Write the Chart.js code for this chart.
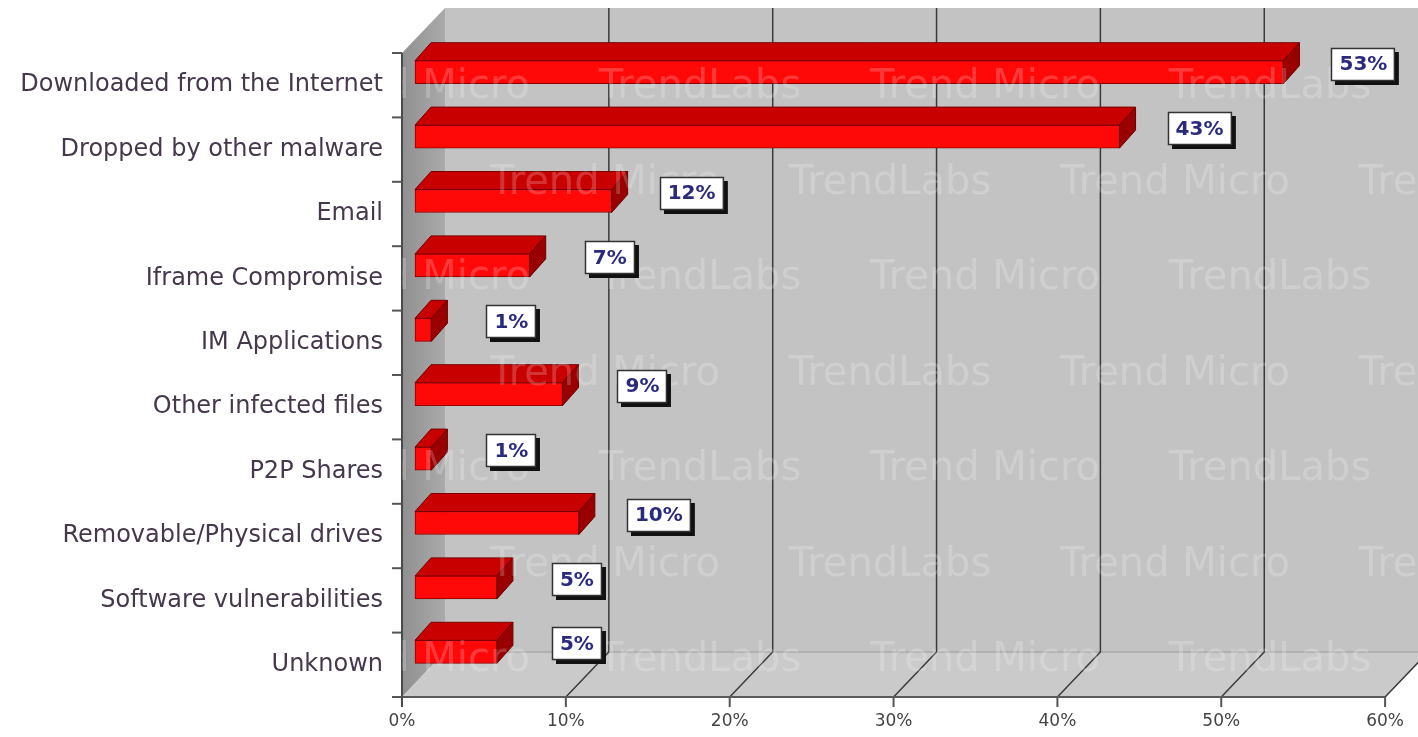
<!DOCTYPE html>
<html>
<head>
<meta charset="utf-8">
<script src="https://cdn.jsdelivr.net/npm/chart.js@4.4.1/dist/chart.umd.min.js"></script>
<style>
  html, body { margin: 0; padding: 0; background: #fff; }
  #wrap { width: 1418px; height: 737px; }
</style>
</head>
<body>
<div id="wrap"><canvas id="sourcesChart"></canvas></div>
<script>
// data
const categories = [
  "Downloaded from the Internet",
  "Dropped by other malware",
  "Email",
  "Iframe Compromise",
  "IM Applications",
  "Other infected files",
  "P2P Shares",
  "Removable/Physical drives",
  "Software vulnerabilities",
  "Unknown"
];
const percentages = [53, 43, 12, 7, 1, 9, 1, 10, 5, 5];
const axisMin = 0;
const axisMax = 60;
const axisStep = 10;
const watermarkWords = ["Trend Micro", "TrendLabs"];

// 3d look
const WALL = { dx: 43, dy: 45 };      // front plane -> back wall
const SHIFT = { dx: 13, dy: 13 };     // front plane -> bar front face
const DEPTH = { dx: 16, dy: 18 };     // bar thickness in depth

function poly(ctx, pts, fill, stroke) {
  ctx.beginPath();
  ctx.moveTo(pts[0][0], pts[0][1]);
  for (let i = 1; i < pts.length; i++) ctx.lineTo(pts[i][0], pts[i][1]);
  ctx.closePath();
  if (fill) { ctx.fillStyle = fill; ctx.fill(); }
  if (stroke) { ctx.strokeStyle = stroke; ctx.lineWidth = 1; ctx.stroke(); }
}

function line(ctx, x1, y1, x2, y2, color, w) {
  ctx.beginPath();
  ctx.moveTo(x1, y1);
  ctx.lineTo(x2, y2);
  ctx.strokeStyle = color;
  ctx.lineWidth = w;
  ctx.stroke();
}

const box3d = {
  id: "box3d",
  beforeDatasetsDraw(chart) {
    const ctx = chart.ctx;
    const a = chart.chartArea;
    const xs = chart.scales.x;
    const ys = chart.scales.y;
    ctx.save();

    // back wall
    ctx.fillStyle = "#c3c3c3";
    ctx.fillRect(a.left + WALL.dx, a.top - WALL.dy, a.width, a.height);

    // left wall
    const g = ctx.createLinearGradient(a.left, 0, a.left + WALL.dx, 0);
    g.addColorStop(0, "#909090");
    g.addColorStop(1, "#aaaaaa");
    poly(ctx, [[a.left, a.top], [a.left + WALL.dx, a.top - WALL.dy],
               [a.left + WALL.dx, a.bottom - WALL.dy], [a.left, a.bottom]], g);

    // floor
    poly(ctx, [[a.left, a.bottom], [a.left + WALL.dx, a.bottom - WALL.dy],
               [a.right + WALL.dx, a.bottom - WALL.dy], [a.right, a.bottom]], "#cacaca");
    line(ctx, a.left + WALL.dx, a.bottom - WALL.dy, a.right + WALL.dx, a.bottom - WALL.dy, "#a9a9a9", 1.5);

    // grid lines on back wall and floor
    for (let v = axisMin; v <= axisMax; v += axisStep) {
      const x = xs.getPixelForValue(v);
      if (v > axisMin) {
        ctx.beginPath();
        ctx.moveTo(x + WALL.dx, a.top - WALL.dy);
        ctx.lineTo(x + WALL.dx, a.bottom - WALL.dy);
        ctx.lineTo(x, a.bottom);
        ctx.strokeStyle = "#3a3a3a";
        ctx.lineWidth = 1.5;
        ctx.stroke();
      }
      line(ctx, x, a.bottom, x, a.bottom + 10, "#555", 2);
    }

    // front axis lines
    line(ctx, a.left, a.bottom, a.right, a.bottom, "#5a5a5a", 2);
    line(ctx, a.left, a.top, a.left, a.bottom + 10, "#4a4a4a", 2);

    // category separators on the y axis
    for (let i = 0; i <= categories.length; i++) {
      const y = ys.getPixelForValue(i - 0.5);
      line(ctx, a.left - 10, y, a.left, y, "#555", 2);
    }
    ctx.restore();

    // push the bars into the box
    ctx.save();
    ctx.translate(SHIFT.dx, -SHIFT.dy);
  },
  afterDatasetsDraw(chart) {
    const ctx = chart.ctx;
    const meta = chart.getDatasetMeta(0);
    meta.data.forEach((bar) => {
      const p = bar.getProps(["x", "y", "base", "height"], true);
      const top = p.y - p.height / 2;
      const bottom = p.y + p.height / 2;
      poly(ctx, [[p.base, top], [p.base + DEPTH.dx, top - DEPTH.dy],
                 [p.x + DEPTH.dx, top - DEPTH.dy], [p.x, top]], "#c90000", "#7a0000");
      poly(ctx, [[p.x, top], [p.x + DEPTH.dx, top - DEPTH.dy],
                 [p.x + DEPTH.dx, bottom - DEPTH.dy], [p.x, bottom]], "#9a0000", "#6a0000");
    });
    ctx.restore();

    // faint TrendLabs watermark, only over the plot box
    const a = chart.chartArea;
    ctx.save();
    ctx.beginPath();
    ctx.rect(a.left, 0, chart.width - a.left, a.bottom);
    ctx.clip();
    ctx.font = "40px 'DejaVu Sans'";
    ctx.textAlign = "center";
    ctx.textBaseline = "middle";
    ctx.fillStyle = "rgba(255,255,255,0.2)";
    for (let r = 0; r < 7; r++) {
      const y = 88 + r * 95.5;
      const off = r % 2 ? 320 : 130;
      for (let k = 1; k <= 5; k++) {
        ctx.fillText(watermarkWords[(k + 1) % 2], off + k * 285, y);
      }
    }
    ctx.restore();

    // value boxes
    ctx.save();
    ctx.font = "bold 20px 'DejaVu Sans'";
    ctx.textAlign = "center";
    ctx.textBaseline = "middle";
    meta.data.forEach((bar, i) => {
      const txt = percentages[i] + "%";
      const cx = bar.x + SHIFT.dx + 80;
      const cy = bar.y - SHIFT.dy - 8;
      const w = ctx.measureText(txt).width + 16;
      const h = 33;
      const x0 = Math.round(cx - w / 2);
      const y0 = Math.round(cy - h / 2);
      ctx.fillStyle = "#111";
      ctx.fillRect(x0 + 4, y0 + 4, w, h);
      ctx.fillStyle = "#fff";
      ctx.fillRect(x0, y0, w, h);
      ctx.strokeStyle = "#333";
      ctx.lineWidth = 1.5;
      ctx.strokeRect(x0 + 0.5, y0 + 0.5, w - 1, h - 1);
      ctx.fillStyle = "#2b2b7e";
      ctx.fillText(txt, cx, cy + 1);
    });
    ctx.restore();
  }
};

new Chart(document.getElementById("sourcesChart"), {
  type: "bar",
  data: {
    labels: categories,
    datasets: [{
      data: percentages,
      backgroundColor: "#ff0808",
      borderColor: "#8a0000",
      borderWidth: 1,
      borderSkipped: false,
      barThickness: 23,
      clip: false
    }]
  },
  options: {
    indexAxis: "y",
    responsive: true,
    maintainAspectRatio: false,
    animation: false,
    events: [],
    layout: { padding: { top: 53, right: 31, bottom: 0, left: 0 } },
    plugins: {
      legend: { display: false },
      tooltip: { enabled: false }
    },
    scales: {
      x: {
        type: "linear",
        min: axisMin,
        max: axisMax,
        grid: { display: false, drawTicks: false },
        border: { display: false },
        ticks: {
          stepSize: axisStep,
          padding: 14,
          color: "#444",
          font: { family: "'DejaVu Sans'", size: 17 },
          callback: (v) => v + "%"
        },
        afterFit: (scale) => { scale.height = 40; }
      },
      y: {
        type: "category",
        grid: { display: false, drawTicks: false },
        border: { display: false },
        ticks: {
          padding: 19,
          color: "#46384c",
          font: { family: "'DejaVu Sans'", size: 24 }
        },
        afterFit: (scale) => { scale.width = 402; }
      }
    }
  },
  plugins: [box3d]
});
</script>
</body>
</html>
